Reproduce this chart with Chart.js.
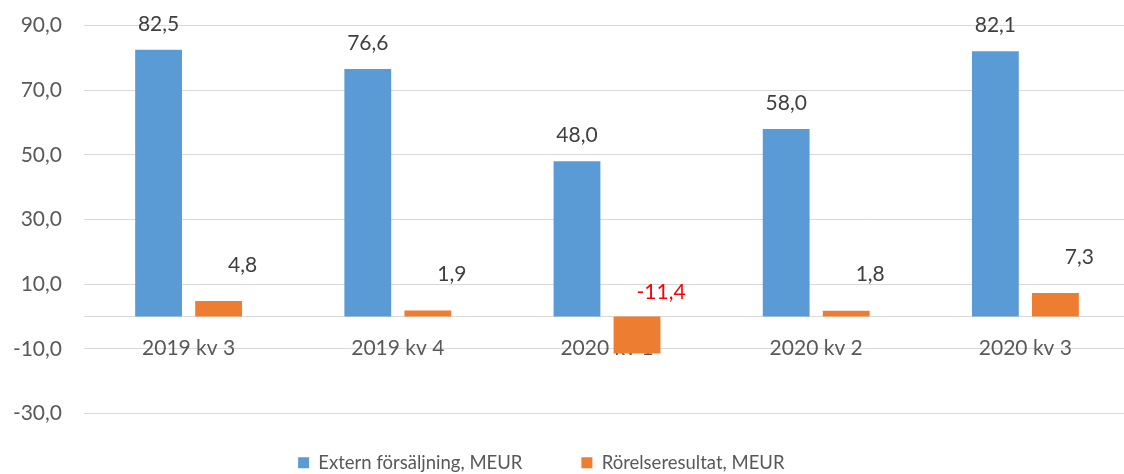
<!DOCTYPE html>
<html>
<head>
<meta charset="utf-8">
<script src="https://cdn.jsdelivr.net/npm/chart.js@4"></script>
<style>
  html, body { margin: 0; padding: 0; background: #fff; overflow: hidden; }
  #myChart { display: block; margin-top: -9px; }
</style>
</head>
<body>
<canvas id="myChart" width="1130" height="491"></canvas>
<script>
// data
const quarters = ['2019 kv 3', '2019 kv 4', '2020 kv 1', '2020 kv 2', '2020 kv 3'];
const externSales = [82.5, 76.6, 48.0, 58.0, 82.1];
const operatingResult = [4.8, 1.9, -11.4, 1.8, 7.3];
const seriesNames = ['Extern försäljning, MEUR', 'Rörelseresultat, MEUR'];

const fontFamily = 'Lato, "Open Sans", sans-serif';

function fmt(v) {
  return v.toFixed(1).replace('.', ',');
}

// value labels above the bars
const valueLabels = {
  id: 'valueLabels',
  afterDatasetsDraw(chart) {
    const ctx = chart.ctx;
    ctx.save();
    ctx.font = '21px ' + fontFamily;
    ctx.textAlign = 'center';
    ctx.textBaseline = 'middle';
    chart.data.datasets.forEach((ds, di) => {
      const meta = chart.getDatasetMeta(di);
      meta.data.forEach((bar, i) => {
        const v = ds.data[i];
        let x = bar.x, y;
        if (di === 0) {
          y = bar.y - 26;
        } else {
          x = bar.x + 24;
          y = v >= 0 ? bar.y - 36 : bar.base - 24;
        }
        ctx.fillStyle = v < 0 ? '#ff0000' : '#404040';
        ctx.fillText(fmt(v), x, y);
      });
    });
    ctx.restore();
  }
};

const ctx = document.getElementById('myChart').getContext('2d');

new Chart(ctx, {
  type: 'bar',
  data: {
    labels: quarters,
    datasets: [{
      label: seriesNames[0] + '    ',
      data: externSales,
      backgroundColor: '#5b9bd5',
      categoryPercentage: 0.574,
      barPercentage: 0.78
    }, {
      label: seriesNames[1] + '          ',
      data: operatingResult,
      backgroundColor: '#ed7d31',
      categoryPercentage: 0.574,
      barPercentage: 0.78
    }]
  },
  options: {
    responsive: false,
    animation: false,
    devicePixelRatio: 1,
    layout: { padding: { top: 18, right: 0, bottom: 0, left: 0 } },
    plugins: {
      legend: {
        position: 'bottom',
        labels: {
          boxWidth: 11,
          boxHeight: 11,
          padding: 40,
          color: '#595959',
          font: { family: fontFamily, size: 18.5, lineHeight: 1 }
        }
      },
      tooltip: { enabled: false }
    },
    scales: {
      x: {
        position: { y: 0 },
        grid: { display: false, drawTicks: false },
        border: { color: '#d9d9d9', width: 1 },
        ticks: {
          color: '#595959',
          padding: 19,
          font: { family: fontFamily, size: 21 }
        }
      },
      y: {
        min: -30,
        max: 90,
        ticks: {
          stepSize: 20,
          color: '#595959',
          padding: 22,
          font: { family: fontFamily, size: 21 },
          callback: (v) => fmt(v)
        },
        afterBuildTicks(scale) {
          scale.ticks = [-30, -10, 10, 30, 50, 70, 90].map(v => ({ value: v }));
        },
        afterFit(scale) { scale.width = 84; },
        grid: { color: '#d9d9d9', drawTicks: false },
        border: { display: false }
      }
    }
  },
  plugins: [valueLabels]
});
</script>
</body>
</html>
